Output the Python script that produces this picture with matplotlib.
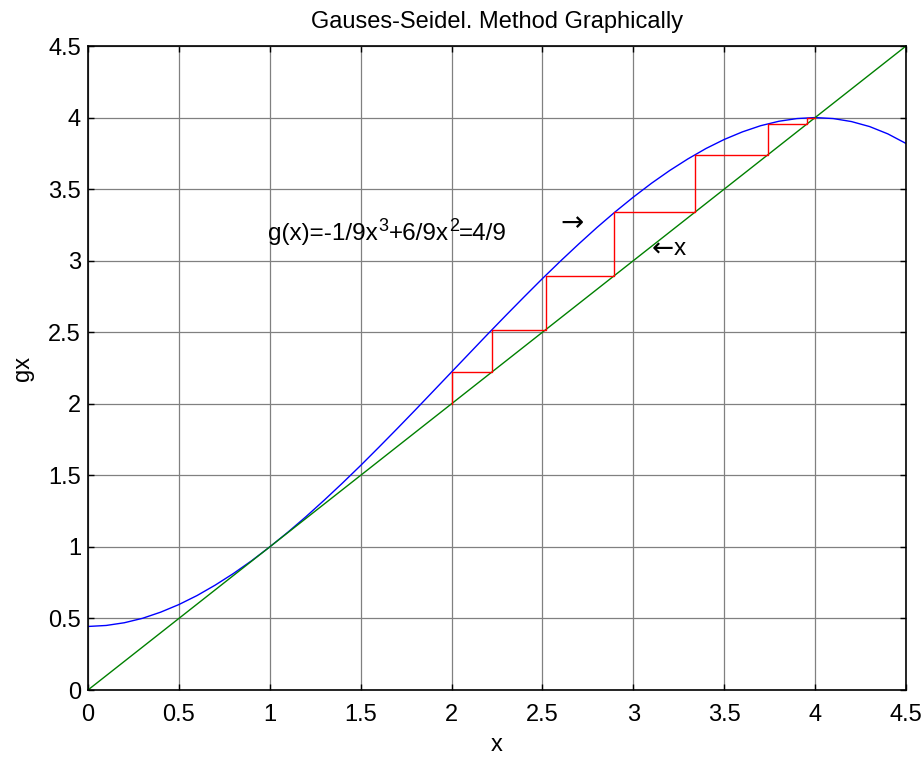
import numpy as np
import matplotlib
matplotlib.use("Agg")
import matplotlib.pyplot as plt

x_vals = [0.0, 0.1, 0.2, 0.3, 0.4, 0.5, 0.6, 0.7, 0.8, 0.9,
          1.0, 1.1, 1.2, 1.3, 1.4, 1.5, 1.6, 1.7, 1.8, 1.9,
          2.0, 2.1, 2.2, 2.3, 2.4, 2.5, 2.6, 2.7, 2.8, 2.9,
          3.0, 3.1, 3.2, 3.3, 3.4, 3.5, 3.6, 3.7, 3.8, 3.9,
          4.0, 4.1, 4.2, 4.3, 4.4, 4.5]
gx_vals = [0.444, 0.451, 0.470, 0.501, 0.544, 0.597, 0.660, 0.733, 0.814, 0.903,
           1.000, 1.103, 1.212, 1.327, 1.446, 1.569, 1.696, 1.825, 1.956, 2.089,
           2.222, 2.355, 2.488, 2.619, 2.748, 2.875, 2.998, 3.117, 3.232, 3.341,
           3.444, 3.541, 3.630, 3.711, 3.784, 3.847, 3.900, 3.943, 3.974, 3.993,
           4.000, 3.993, 3.972, 3.937, 3.886, 3.819]

# iterates of the fixed-point staircase (red)
iterates = [2.0, 2.222, 2.517, 2.896, 3.337, 3.739, 3.957, 3.999]

x_ticks = [0, 0.5, 1, 1.5, 2, 2.5, 3, 3.5, 4, 4.5]
y_ticks = [0, 0.5, 1, 1.5, 2, 2.5, 3, 3.5, 4, 4.5]

# equation label pieces: (text, is_superscript)
eq_pieces = [("g(x)=-1/9x", False), ("3", True), ("+6/9x", False),
             ("2", True), ("=4/9", False)]

plt.rcParams["font.family"] = ["Liberation Sans", "DejaVu Sans"]

fig = plt.figure(figsize=(9.23, 7.58), dpi=100)
ax = fig.add_axes([0.0953, 0.0897, 0.8863, 0.8496])

ax.plot(x_vals, gx_vals, color="blue", linewidth=1.0)
ax.plot(x_vals, x_vals, color="#008000", linewidth=1.0)

# build staircase: up to the curve, across to the diagonal
stair_x = [iterates[0]]
stair_y = [iterates[0]]
for a, b in zip(iterates[:-1], iterates[1:]):
    stair_x += [a, b]
    stair_y += [b, b]
ax.plot(stair_x, stair_y, color="red", linewidth=1.0)

# equation text, chained piece by piece so superscripts stay big like MATLAB's
base_y = 3.145
prev = ax.text(0.99, base_y, eq_pieces[0][0], fontsize=17.5, va="baseline")
for txt, sup in eq_pieces[1:]:
    prev = ax.annotate(txt, xy=(1, base_y), xycoords=(prev, "data"),
                       xytext=(0.5 if sup else 0, 6.5 if sup else 0),
                       textcoords="offset points",
                       fontsize=13 if sup else 17.5, va="baseline")

ax.text(2.60, 3.26, "\u2192", fontsize=20, va="center", family=["DejaVu Sans"])
t = ax.text(3.10, 3.08, "\u2190", fontsize=19, va="center", family=["DejaVu Sans"])
ax.annotate("x", xy=(1, 3.08), xycoords=(t, "data"), xytext=(0, 0),
            textcoords="offset points", fontsize=17.5, va="center")

ax.set_xlim(0, 4.5)
ax.set_ylim(0, 4.5)
ax.set_xticks(x_ticks)
ax.set_yticks(y_ticks)
ax.set_xticklabels([f"{t:g}" for t in x_ticks])
ax.set_yticklabels([f"{t:g}" for t in y_ticks])
ax.tick_params(direction="in", length=4, width=1, labelsize=17,
               top=True, right=True, pad=5)
ax.tick_params(axis="x", pad=10)
ax.grid(True, color="#808080", linewidth=0.9)
ax.set_axisbelow(True)
for s in ax.spines.values():
    s.set_linewidth(1.2)

ax.set_xlabel("x", fontsize=17, labelpad=6)
ax.set_ylabel("gx", fontsize=17, labelpad=10)
ax.set_title("Gauses-Seidel. Method Graphically", fontsize=17, pad=13)

fig.savefig("out.png", dpi=100)
